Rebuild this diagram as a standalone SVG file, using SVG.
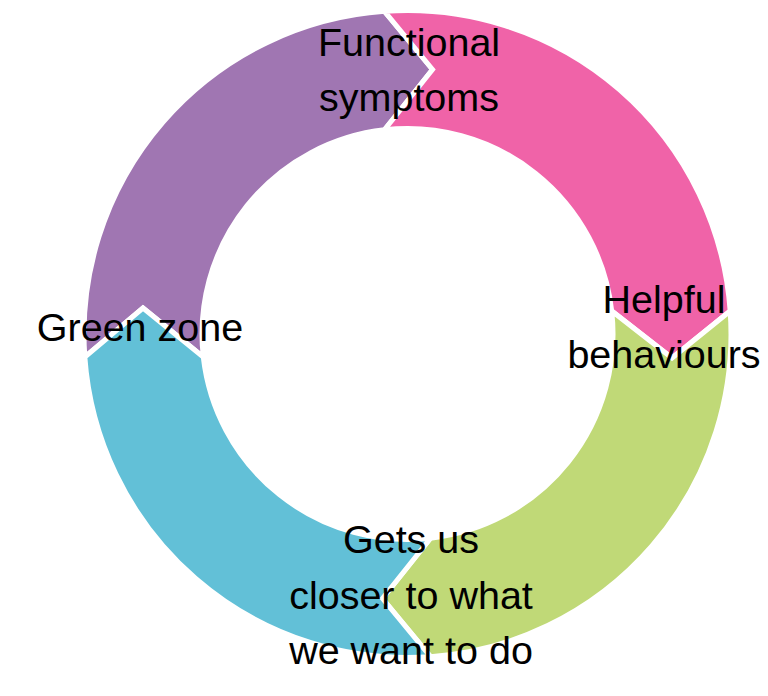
<svg xmlns="http://www.w3.org/2000/svg" width="768" height="696" viewBox="0 0 768 696">
<style>
.seg{stroke:#FFFFFF;stroke-width:5;stroke-linejoin:miter}
.lbl{font-family:"Liberation Sans",Arial,sans-serif;font-size:39.5px;fill:#000000;text-anchor:middle}
</style>
<rect width="768" height="696" fill="#FFFFFF"/>
<g id="connectors"></g>
<g id="node-functional">
<path class="seg" fill="#A076B2" d="M84.82,357 A323.5,323.5 0 0 1 384.5,11.32 L432.5,69.5 L384.5,129.79 A205.5,205.5 0 0 0 203.29,357 L143,308 Z"/>
</g>
<g id="node-helpful">
<path class="seg" fill="#F063A8" d="M384.5,11.32 A323.5,323.5 0 0 1 730.18,311 L672,358 L611.71,311 A205.5,205.5 0 0 0 384.5,129.79 L432.5,69.5 Z"/>
</g>
<g id="node-closer">
<path class="seg" fill="#C0D977" d="M730.18,311 A323.5,323.5 0 0 1 430.5,656.68 L382.5,598.5 L430.5,538.21 A205.5,205.5 0 0 0 611.71,311 L672,358 Z"/>
</g>
<g id="node-green">
<path class="seg" fill="#62C0D7" d="M430.5,656.68 A323.5,323.5 0 0 1 84.82,357 L143,308 L203.29,357 A205.5,205.5 0 0 0 430.5,538.21 L382.5,598.5 Z"/>
</g>
<g id="labels">
<text class="lbl" x="409" y="56">Functional</text>
<text class="lbl" x="409" y="111">symptoms</text>
<text class="lbl" x="664" y="313">Helpful</text>
<text class="lbl" x="664" y="368">behaviours</text>
<text class="lbl" x="411" y="553">Gets us</text>
<text class="lbl" x="411" y="609">closer to what</text>
<text class="lbl" x="411" y="664">we want to do</text>
<text class="lbl" x="140" y="341">Green zone</text>
</g>
</svg>
